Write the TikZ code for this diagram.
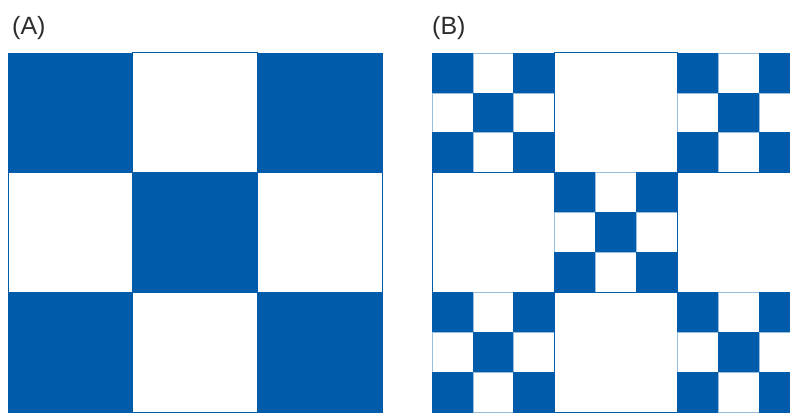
\documentclass[tikz,border=0pt]{standalone}
\usepackage{fontspec}
\setmainfont{Liberation Sans}
\definecolor{cb}{RGB}{0,91,170}
\definecolor{lbl}{RGB}{45,45,45}
\begin{document}
\begin{tikzpicture}[x=1pt,y=-1pt,
  bluecell/.style={fill=cb, draw=cb, line width=0.6pt},
  whitecell/.style={fill=white, draw=cb, line width=1pt},
  subwhite/.style={fill=white, draw=cb!40, line width=0.7pt},
  panellabel/.style={anchor=west, inner sep=0pt, text=lbl, font=\fontsize{25}{25}\selectfont}]
\useasboundingbox (0,0) rectangle (790,414);
\clip (0,0) rectangle (790,414);
% Panel A
\def\ax{8}\def\ay{53}\def\aw{124.67}\def\ah{119.67}
\foreach \i in {0,1,2}{
  \foreach \j in {0,1,2}{
    \pgfmathtruncatemacro\p{mod(\i+\j,2)}
    \ifnum\p=0
      \path[bluecell] ({\ax+\i*\aw},{\ay+\j*\ah}) rectangle ++(\aw,\ah);
    \else
      \path[whitecell] ({\ax+\i*\aw},{\ay+\j*\ah}) rectangle ++(\aw,\ah);
    \fi
  }
}
% Panel B
\def\bx{432}\def\by{53}\def\bw{122.67}\def\bh{119.67}
\foreach \i in {0,1,2}{
  \foreach \j in {0,1,2}{
    \pgfmathtruncatemacro\p{mod(\i+\j,2)}
    \ifnum\p=0
      \foreach \k in {0,1,2}{
        \foreach \l in {0,1,2}{
          \pgfmathtruncatemacro\q{mod(\k+\l,2)}
          \ifnum\q=0
            \path[bluecell] ({\bx+\i*\bw+\k*\bw/3},{\by+\j*\bh+\l*\bh/3}) rectangle ++({\bw/3},{\bh/3});
          \else
            \path[subwhite] ({\bx+\i*\bw+\k*\bw/3},{\by+\j*\bh+\l*\bh/3}) rectangle ++({\bw/3},{\bh/3});
          \fi
        }
      }
    \else
      \path[whitecell] ({\bx+\i*\bw},{\by+\j*\bh}) rectangle ++(\bw,\bh);
    \fi
  }
}
\node[panellabel] (la) at (12,28) {(A)};
\node[panellabel] (lb) at (432,28) {(B)};
\end{tikzpicture}
\end{document}
